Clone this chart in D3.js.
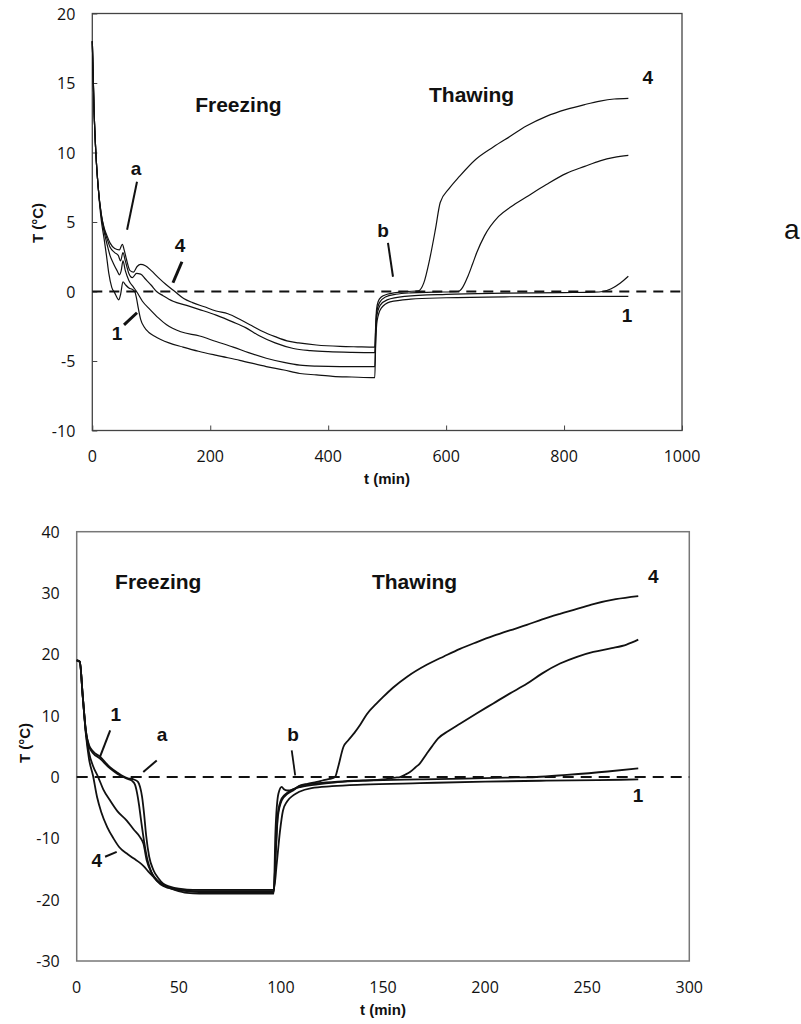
<!DOCTYPE html>
<html>
<head>
<meta charset="utf-8">
<script src="https://cdn.jsdelivr.net/npm/d3@7"></script>
<style>
  html, body { margin: 0; padding: 0; background: #fff; }
  svg { display: block; }
  .tick-label { font-family: "Open Sans", "Liberation Sans", Arial, sans-serif; font-size: 16px; fill: #111; }
  .axis-title { font-family: "Liberation Sans", Arial, sans-serif; font-weight: bold; font-size: 15px; fill: #111; }
  .phase { font-family: "Liberation Sans", Arial, sans-serif; font-weight: bold; font-size: 21px; fill: #111; }
  .note { font-family: "Liberation Sans", Arial, sans-serif; font-weight: bold; font-size: 19px; fill: #111; }
  .panel { font-family: "Liberation Sans", Arial, sans-serif; font-size: 28px; fill: #111; }
</style>
</head>
<body>
<svg id="chart" width="801" height="1024"></svg>
<script>
// ---------- Panel a: freezing / thawing at slow rate (t up to 1000 min) ----------
const topXTicks = [0, 200, 400, 600, 800, 1000];
const topYTicks = [-10, -5, 0, 5, 10, 15, 20];

const topTime1 = [0, 3, 6, 10, 15, 20, 24, 28, 33, 38, 42, 45, 48, 52, 56, 62, 68, 72, 75, 78, 82, 88, 96, 105, 116, 130, 154, 180, 211, 250, 295, 325, 352, 380, 408, 440, 479, 480.5, 483, 490, 505, 540, 600, 700, 800, 909];
const topTemp1 = [18, 13, 10, 7.5, 5.2, 3.8, 2.6, 1.3, 0.3, -0.1, -0.45, -0.6, -0.2, 0.7, 0.5, 0.25, 0.15, 0, -0.5, -1.2, -2.0, -2.55, -2.95, -3.2, -3.45, -3.7, -4.0, -4.3, -4.6, -4.95, -5.4, -5.65, -5.9, -6.0, -6.1, -6.15, -6.2, -3.8, -2.1, -1.2, -0.75, -0.55, -0.45, -0.38, -0.36, -0.35];

const topTime2 = [0, 3, 6, 10, 15, 20, 25, 30, 36, 42, 46, 49, 52, 56, 62, 70, 75, 85, 98, 112, 126, 150, 182, 210, 239, 265, 295, 325, 352, 380, 420, 479, 480.5, 482, 488, 500, 530, 600, 700, 800, 850, 866, 880, 895, 909];
const topTemp2 = [18, 13, 10, 7.5, 5.5, 4.3, 3.4, 2.6, 2.0, 1.5, 1.2, 1.5, 2.2, 1.5, 0.8, 0.3, 0, -0.7, -1.3, -1.9, -2.4, -2.9, -3.2, -3.6, -4.0, -4.4, -4.8, -5.1, -5.3, -5.37, -5.4, -5.4, -3.5, -1.9, -1.0, -0.6, -0.35, -0.2, -0.12, -0.08, -0.05, 0, 0.2, 0.6, 1.1];

const topTime3 = [0, 3, 6, 10, 15, 20, 25, 30, 38, 44, 48, 52, 56, 62, 68, 75, 82, 90, 100, 109, 120, 137, 160, 182, 210, 239, 260, 284, 310, 341, 370, 400, 440, 479, 480.5, 482, 487, 497, 515, 540, 580, 620, 628, 637, 645, 652, 665, 689, 710, 736, 770, 804, 835, 861, 885, 909];
const topTemp3 = [18, 13, 10, 7.5, 5.6, 4.5, 3.8, 3.2, 2.8, 2.6, 2.2, 2.8, 2.2, 1.3, 1.0, 1.3, 1.25, 0.9, 0.45, 0, -0.3, -0.7, -1.0, -1.3, -1.7, -2.2, -2.6, -3.2, -3.7, -4.1, -4.25, -4.33, -4.38, -4.4, -2.8, -1.6, -0.8, -0.4, -0.2, -0.1, -0.05, 0, 0.3, 1.1, 2.0, 2.8, 4.0, 5.4, 6.1, 6.8, 7.7, 8.5, 9.0, 9.4, 9.65, 9.8];

const topTime4 = [0, 3, 6, 10, 15, 20, 25, 30, 38, 46, 51, 54, 58, 64, 70, 76, 82, 90, 100, 112, 125, 140, 155, 170, 190, 210, 230, 250, 270, 290, 310, 330, 350, 380, 420, 450, 479, 480.5, 482, 485, 490, 500, 515, 535, 553, 562, 572, 582, 590, 605, 623, 650, 680, 710, 736, 770, 804, 835, 861, 885, 909];
const topTemp4 = [18, 13, 10, 7.5, 5.6, 4.6, 4.0, 3.5, 3.1, 3.0, 3.4, 3.0, 2.3, 1.5, 1.4, 1.8, 1.95, 1.85, 1.5, 1.0, 0.5, 0.0, -0.5, -0.8, -1.1, -1.4, -1.6, -2.0, -2.45, -2.9, -3.25, -3.55, -3.7, -3.85, -3.95, -3.98, -4.0, -2.5, -1.3, -0.7, -0.4, -0.2, -0.08, 0.0, 0.05, 0.6, 2.3, 4.5, 6.4, 7.4, 8.3, 9.5, 10.4, 11.2, 11.9, 12.6, 13.1, 13.45, 13.7, 13.85, 13.9];

// ---------- Panel b: freezing / thawing at fast rate (t up to 300 min) ----------
const botXTicks = [0, 50, 100, 150, 200, 250, 300];
const botYTicks = [-30, -20, -10, 0, 10, 20, 30, 40];

const botTime1 = [0, 1.5, 3, 4.5, 6, 8, 11.4, 16.3, 20, 22.8, 25, 28, 30, 31, 32, 33, 34, 35.5, 37.6, 40, 42.4, 46, 50, 54, 60, 80, 96.5, 98, 99.5, 101, 103, 106, 109, 115, 125, 140, 168, 200, 230, 255, 275];
const botTemp1 = [19, 18.8, 13, 7.5, 5.2, 4.2, 3.3, 1.6, 0.7, 0.1, -0.2, -0.4, -0.8, -1.6, -3.2, -6, -9.5, -13, -15.2, -16.5, -17.4, -17.9, -18.2, -18.35, -18.4, -18.4, -18.4, -14, -9, -5.5, -4, -3, -2.4, -1.8, -1.5, -1.25, -1.0, -0.75, -0.6, -0.5, -0.4];

const botTime2 = [0, 1.5, 3, 4.5, 6, 8, 11.4, 16.3, 20, 22.8, 25, 27, 28.5, 29.5, 30.5, 31.5, 33, 34.5, 36, 38, 41, 45, 50, 55, 60, 80, 96.5, 97.5, 98.5, 100.4, 103, 106, 109, 118, 130, 150, 168, 190, 210, 225, 240, 260, 275];
const botTemp2 = [19, 18.8, 13, 7.5, 5.0, 3.9, 3.0, 1.4, 0.5, 0, -0.3, -0.6, -1.2, -2.5, -4.5, -7, -10.5, -13.3, -15, -16.4, -17.5, -18.1, -18.4, -18.55, -18.6, -18.6, -18.6, -12, -6.5, -3.8, -2.8, -2.2, -1.5, -1.0, -0.7, -0.5, -0.4, -0.25, -0.1, 0, 0.35, 0.9, 1.4];

const botTime3 = [0, 1.5, 3, 4.5, 6, 8, 10.5, 13, 16.3, 20, 24.5, 28, 31, 32.7, 34.3, 36.5, 39.2, 43, 47.3, 54, 60, 80, 96.5, 97.5, 98.5, 100.4, 103, 106, 110, 118, 126, 140, 150, 156, 158.3, 161, 163.2, 166, 168, 171.4, 174, 177, 182, 187.7, 196, 204, 212, 220.4, 228, 236.7, 245, 253, 262, 269.3, 275];
const botTemp3 = [19, 18.8, 13, 7.2, 4.0, 1.8, 0, -2, -3.8, -5.6, -7.1, -8.6, -9.8, -10.9, -13.6, -15.5, -16.8, -17.7, -18.2, -18.6, -18.75, -18.75, -18.75, -12, -6, -3.5, -2.6, -2.0, -1.6, -1.2, -0.9, -0.6, -0.4, -0.1, 0, 0.4, 0.8, 1.6, 2.2, 3.8, 5.0, 6.3, 7.5, 8.7, 10.4, 12, 13.6, 15.2, 16.9, 18.5, 19.6, 20.4, 21.0, 21.6, 22.4];

const botTime4 = [0, 1.5, 3, 4.5, 6, 8, 10, 12, 15, 18, 21, 25, 28, 31, 33, 35, 37.6, 40.5, 44, 48, 54, 60, 80, 96.5, 97.3, 98.8, 100.4, 101.5, 103, 106, 109.3, 113, 117.6, 121, 124, 126.5, 128, 130.6, 133, 136, 139, 142, 146.9, 150.2, 155, 162, 171.4, 180, 187.7, 196, 204, 212, 220.4, 228, 236.7, 245, 253, 264, 275];
const botTemp4 = [19, 18.8, 13, 7.0, 3.0, 0.2, -3.3, -5.7, -8.2, -10, -11.5, -12.6, -13.3, -14.0, -14.6, -15.4, -16.3, -17.2, -17.9, -18.4, -18.9, -19, -19, -19, -9.2, -2.7, -1.6, -2.0, -2.2, -2.0, -1.4, -1.1, -0.8, -0.5, -0.3, 0, 1.6, 4.9, 6.0, 7.2, 8.6, 10.2, 12.0, 13.1, 14.6, 16.4, 18.3, 19.7, 20.9, 22.0, 23.0, 23.9, 24.8, 25.7, 26.6, 27.4, 28.2, 29.0, 29.5];

// Text annotations and pointer lines, in data units (t, T)
const topNotes = [
  { text: "Freezing", t: 174.5, T: 12.94, cls: "phase", anchor: "start" },
  { text: "Thawing", t: 571, T: 13.6, cls: "phase", anchor: "start" },
  { text: "a", t: 74, T: 8.4, cls: "note", anchor: "middle" },
  { text: "4", t: 148.7, T: 2.86, cls: "note", anchor: "middle" },
  { text: "1", t: 41.9, T: -3.48, cls: "note", anchor: "middle" },
  { text: "b", t: 493, T: 3.94, cls: "note", anchor: "middle" },
  { text: "4", t: 942, T: 14.9, cls: "note", anchor: "middle" },
  { text: "1", t: 907, T: -2.2, cls: "note", anchor: "middle" }
];
const topPointers = [
  { t1: 75.8, T1: 7.9, t2: 59, T2: 4.44, w: 2 },
  { t1: 152, T1: 2.14, t2: 136.8, T2: 0.63, w: 3 },
  { t1: 75.8, T1: -1.53, t2: 53.8, T2: -2.4, w: 3 },
  { t1: 501.4, T1: 3.5, t2: 509.9, T2: 1.06, w: 2 }
];
const botNotes = [
  { text: "Freezing", t: 18.8, T: 30.6, cls: "phase", anchor: "start" },
  { text: "Thawing", t: 144.6, T: 30.6, cls: "phase", anchor: "start" },
  { text: "1", t: 19.2, T: 9.1, cls: "note", anchor: "middle" },
  { text: "a", t: 41.8, T: 5.8, cls: "note", anchor: "middle" },
  { text: "b", t: 106, T: 5.8, cls: "note", anchor: "middle" },
  { text: "4", t: 9.8, T: -14.6, cls: "note", anchor: "middle" },
  { text: "4", t: 282.4, T: 31.7, cls: "note", anchor: "middle" },
  { text: "1", t: 274.9, T: -4.1, cls: "note", anchor: "middle" }
];
const botPointers = [
  { t1: 16.4, T1: 7.6, t2: 11.4, T2: 3.3, w: 2 },
  { t1: 39.2, T1: 2.7, t2: 32.6, T2: 0.8, w: 2 },
  { t1: 105.3, T1: 4.35, t2: 107, T2: 0.28, w: 1.8 },
  { t1: 13.9, T1: -13.0, t2: 19.6, T2: -12.2, w: 2 }
];

const svg = d3.select("#chart");

function drawPanel(cfg) {
  const g = svg.append("g");
  const x = d3.scaleLinear().domain(cfg.xDomain).range([cfg.left, cfg.right]);
  const y = d3.scaleLinear().domain(cfg.yDomain).range([cfg.bottom, cfg.top]);

  // plot frame
  g.append("rect")
    .attr("x", cfg.left).attr("y", cfg.top)
    .attr("width", cfg.right - cfg.left).attr("height", cfg.bottom - cfg.top)
    .attr("fill", "none").attr("stroke", cfg.frameColor).attr("stroke-width", cfg.frameWidth);

  // axes (inward ticks, labels placed separately)
  const xAxis = d3.axisBottom(x).tickValues(cfg.xTicks).tickSize(-cfg.tickLen).tickFormat("");
  const yAxis = d3.axisLeft(y).tickValues(cfg.yTicks).tickSize(-cfg.tickLen).tickFormat("");
  const gx = g.append("g").attr("transform", `translate(0,${cfg.bottom})`).call(xAxis);
  const gy = g.append("g").attr("transform", `translate(${cfg.left},0)`).call(yAxis);
  [gx, gy].forEach(a => {
    a.select(".domain").remove();
    a.selectAll("line").attr("stroke", cfg.frameColor).attr("stroke-width", 1);
  });

  g.selectAll(".xl").data(cfg.xTicks).enter().append("text")
    .attr("class", "tick-label").attr("text-anchor", "middle")
    .attr("x", d => x(d)).attr("y", cfg.bottom + cfg.xLabelGap)
    .text(d => d);
  g.selectAll(".yl").data(cfg.yTicks).enter().append("text")
    .attr("class", "tick-label").attr("text-anchor", "end")
    .attr("x", cfg.left - cfg.yLabelGap).attr("y", d => y(d) + 6)
    .text(d => d);

  g.append("text").attr("class", "axis-title").attr("text-anchor", "middle")
    .attr("x", cfg.xTitle[0]).attr("y", cfg.xTitle[1]).text("t (min)");
  g.append("text").attr("class", "axis-title").attr("text-anchor", "middle")
    .attr("transform", `translate(${cfg.yTitle[0]},${cfg.yTitle[1]}) rotate(-90)`)
    .text("T (°C)");

  // 0 °C reference
  g.append("line")
    .attr("x1", x(cfg.xDomain[0])).attr("x2", x(cfg.xDomain[1]))
    .attr("y1", y(0)).attr("y2", y(0))
    .attr("stroke", "#111").attr("stroke-width", 2).attr("stroke-dasharray", cfg.dash);

  // temperature curves
  const line = d3.line().x(d => x(d[0])).y(d => y(d[1])).curve(d3.curveMonotoneX);
  cfg.series.forEach(s => {
    const pts = s.t.map((t, i) => [t, s.T[i]]);
    g.append("path").datum(pts)
      .attr("d", line)
      .attr("fill", "none").attr("stroke", "#111")
      .attr("stroke-width", cfg.curveWidth).attr("stroke-linejoin", "round");
  });

  // pointers and labels
  cfg.pointers.forEach(p => {
    g.append("line")
      .attr("x1", x(p.t1)).attr("y1", y(p.T1)).attr("x2", x(p.t2)).attr("y2", y(p.T2))
      .attr("stroke", "#111").attr("stroke-width", p.w);
  });
  cfg.notes.forEach(n => {
    g.append("text").attr("class", n.cls).attr("text-anchor", n.anchor)
      .attr("x", x(n.t)).attr("y", y(n.T)).text(n.text);
  });
}

drawPanel({
  xDomain: [0, 1000], yDomain: [-10, 20],
  left: 92.3, right: 682, top: 13.5, bottom: 430.5,
  xTicks: topXTicks, yTicks: topYTicks, tickLen: 5,
  xLabelGap: 31, yLabelGap: 17,
  xTitle: [387, 484], yTitle: [43, 223],
  frameColor: "#444", frameWidth: 1.3,
  dash: "10,7", curveWidth: 1.2,
  series: [
    { t: topTime1, T: topTemp1 },
    { t: topTime2, T: topTemp2 },
    { t: topTime3, T: topTemp3 },
    { t: topTime4, T: topTemp4 }
  ],
  notes: topNotes, pointers: topPointers
});

drawPanel({
  xDomain: [0, 300], yDomain: [-30, 40],
  left: 76.7, right: 689.3, top: 531.7, bottom: 961,
  xTicks: botXTicks, yTicks: botYTicks, tickLen: 0,
  xLabelGap: 32, yLabelGap: 17,
  xTitle: [383, 1015], yTitle: [30, 743],
  frameColor: "#777", frameWidth: 1.5,
  dash: "11,7", curveWidth: 1.8,
  series: [
    { t: botTime1, T: botTemp1 },
    { t: botTime2, T: botTemp2 },
    { t: botTime3, T: botTemp3 },
    { t: botTime4, T: botTemp4 }
  ],
  notes: botNotes, pointers: botPointers
});

// panel letter
svg.append("text").attr("class", "panel").attr("x", 784).attr("y", 239).text("a");
</script>
</body>
</html>
